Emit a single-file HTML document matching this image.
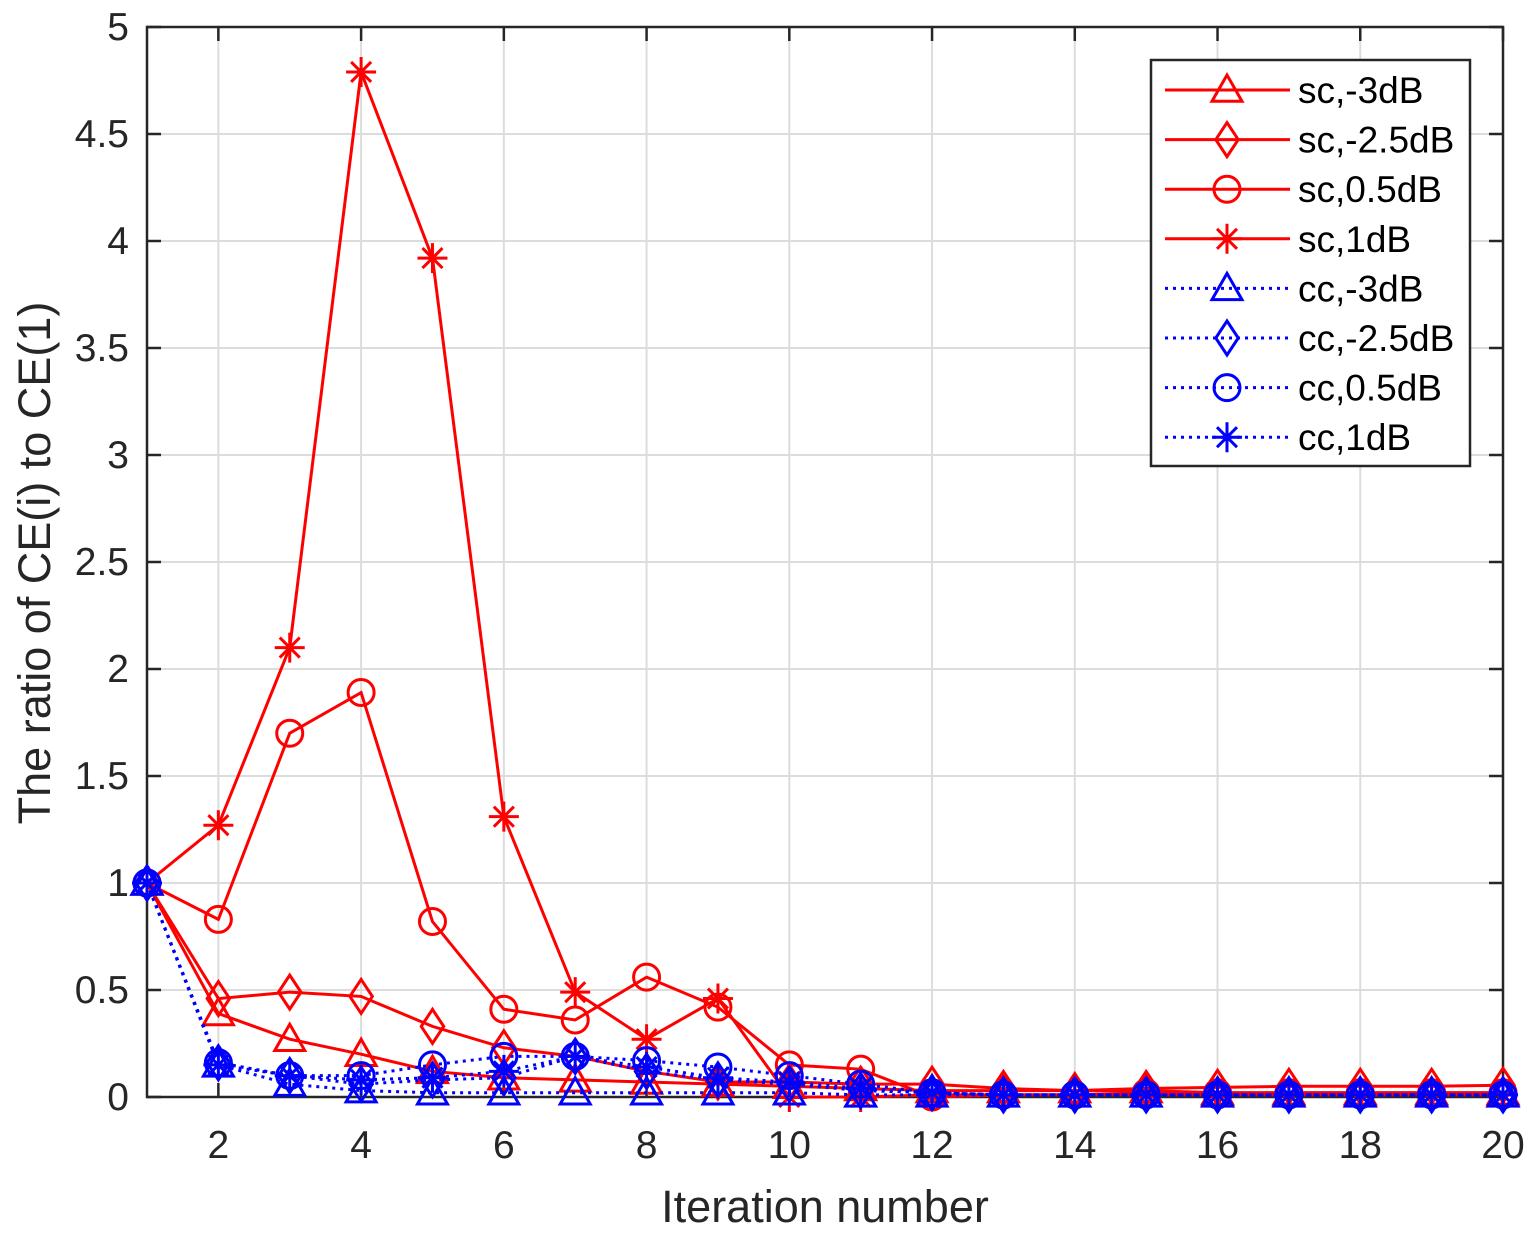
<!DOCTYPE html>
<html><head><meta charset="utf-8"><style>body{margin:0;background:#fff}svg{display:block}text{font-family:"Liberation Sans",sans-serif;fill:#262626}</style></head>
<body><svg id="s" width="1540" height="1242" xmlns="http://www.w3.org/2000/svg"></svg>
<script>
const s=document.getElementById('s');let h='';
const X=v=>147+(v-1)*(1503-147)/19, Y=v=>1097-214*v;
for(let i=2;i<=20;i+=2)h+=`<line x1="${X(i)}" y1="27" x2="${X(i)}" y2="1097" stroke="#dcdcdc" stroke-width="2"/>`;
for(let k=1;k<10;k++)h+=`<line x1="147" y1="${Y(k/2)}" x2="1503" y2="${Y(k/2)}" stroke="#dcdcdc" stroke-width="2"/>`;
h+=`<rect x="147" y="27" width="1356" height="1070" fill="none" stroke="#262626" stroke-width="2.5"/>`;
for(let i=2;i<=20;i+=2){h+=`<line x1="${X(i)}" y1="1097" x2="${X(i)}" y2="1083" stroke="#262626" stroke-width="2.5"/><line x1="${X(i)}" y1="27" x2="${X(i)}" y2="41" stroke="#262626" stroke-width="2.5"/><text x="${X(i)}" y="1158" font-size="39" text-anchor="middle">${i}</text>`;}
for(let k=0;k<=10;k++){const y=Y(k/2);h+=`<line x1="147" y1="${y}" x2="161" y2="${y}" stroke="#262626" stroke-width="2.5"/><line x1="1503" y1="${y}" x2="1489" y2="${y}" stroke="#262626" stroke-width="2.5"/><text x="129" y="${y+13}" font-size="39" text-anchor="end">${k/2}</text>`;}
h+=`<text x="825" y="1222" font-size="45" text-anchor="middle">Iteration number</text>`;
h+=`<text transform="translate(50,563) rotate(-90)" font-size="45" text-anchor="middle">The ratio of CE(i) to CE(1)</text>`;
function mk(t,x,y,c){const r=15;
 if(t=='t')return `<polygon points="${x},${y-r} ${x-r},${y+r*0.75} ${x+r},${y+r*0.75}" fill="none" stroke="${c}" stroke-width="3"/>`;
 if(t=='d')return `<polygon points="${x},${y-r-2} ${x+r*0.75},${y} ${x},${y+r+2} ${x-r*0.75},${y}" fill="none" stroke="${c}" stroke-width="3"/>`;
 if(t=='o')return `<circle cx="${x}" cy="${y}" r="${r-2}" fill="none" stroke="${c}" stroke-width="3"/>`;
 return `<path d="M${x-r} ${y}H${x+r}M${x} ${y-r}V${y+r}M${x-10} ${y-10}L${x+10} ${y+10}M${x-10} ${y+10}L${x+10} ${y-10}" stroke="${c}" stroke-width="3"/>`;}
const S=[
['t','red',[1,.39,.27,.2,.12,.09,.08,.07,.06,.05,.04,.03,.03,.03,.03,.02,.02,.02,.02,.02],'sc,-3dB'],
['d','red',[1,.46,.49,.47,.33,.23,.19,.12,.07,.07,.06,.06,.04,.03,.04,.045,.05,.05,.05,.055],'sc,-2.5dB'],
['o','red',[1,.83,1.70,1.89,.82,.41,.36,.56,.42,.15,.13,0,.01,.01,.02,.02,.02,.02,.02,.02],'sc,0.5dB'],
['s','red',[1,1.27,2.10,4.79,3.92,1.31,.49,.27,.46,0,0,.01,.01,.01,.01,.01,.01,.01,.01,.01],'sc,1dB'],
['t','blue',[1,.15,.06,.03,.02,.02,.02,.02,.02,.02,.01,.01,.01,.01,.01,.01,.01,.01,.01,.01],'cc,-3dB'],
['d','blue',[1,.16,.1,.06,.08,.09,.19,.12,.08,.06,.03,.02,.01,.01,.01,.01,.01,.01,.01,.01],'cc,-2.5dB'],
['o','blue',[1,.16,.1,.1,.15,.19,.19,.17,.14,.1,.06,.02,.01,.01,.01,.01,.01,.01,.01,.01],'cc,0.5dB'],
['s','blue',[1,.15,.1,.08,.09,.12,.19,.14,.09,.07,.04,.02,.01,.01,.01,.01,.01,.01,.01,.01],'cc,1dB']];
S.forEach(([t,c,d])=>{const p=d.map((v,i)=>X(i+1)+','+Y(v)).join(' ');
 h+=`<polyline points="${p}" fill="none" stroke="${c}" stroke-width="3" ${c=='blue'?'stroke-dasharray="3 5"':''}/>`;
 d.forEach((v,i)=>h+=mk(t,X(i+1),Y(v),c));});
h+=`<rect x="1151" y="60" width="319" height="406" fill="#fff" stroke="#262626" stroke-width="2.5"/>`;
S.forEach(([t,c,d,l],i)=>{const y=90+i*49.6;
 h+=`<line x1="1165" y1="${y}" x2="1290" y2="${y}" stroke="${c}" stroke-width="3" ${c=='blue'?'stroke-dasharray="3 5"':''}/>`+mk(t,1227,y,c)+`<text x="1298" y="${y+13}" font-size="37" style="fill:#000">${l}</text>`;});
s.innerHTML=h;
</script></body></html>
